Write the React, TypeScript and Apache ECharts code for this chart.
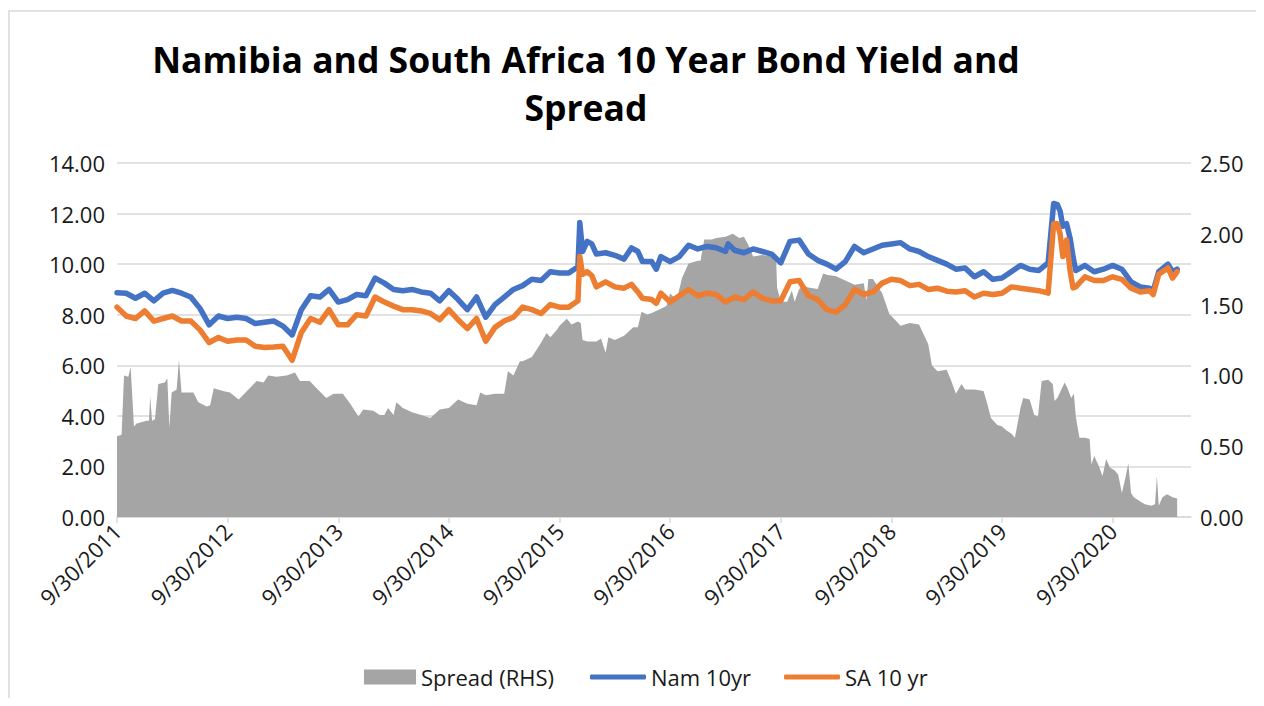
import { useEffect, useRef } from "react";
import * as echarts from "echarts";

// x values are months after 9/30/2011
const tickMonths = [0, 12, 24, 36, 48, 60, 72, 84, 96, 108];
const tickYears = [2011, 2012, 2013, 2014, 2015, 2016, 2017, 2018, 2019, 2020];
const leftTicks = [0, 2, 4, 6, 8, 10, 12, 14];
const rightTicks = [0, 0.5, 1, 1.5, 2, 2.5];

const namYield: [number, number][] = [
  [0, 8.87], [1, 8.85], [2, 8.65], [3, 8.85], [4, 8.55], [5, 8.85], [6, 8.96], [7, 8.85], [8, 8.7], [9, 8.25],
  [10, 7.6], [11, 7.95], [12, 7.85], [13, 7.9], [14, 7.85], [15, 7.65], [16, 7.7], [17, 7.75], [18, 7.55], [19, 7.2],
  [20, 8.2], [21, 8.75], [22, 8.7], [23, 9.0], [24, 8.5], [25, 8.6], [26, 8.8], [27, 8.75], [28, 9.45], [29, 9.25],
  [30, 9.0], [31, 8.95], [32, 9.0], [33, 8.9], [34, 8.85], [35, 8.55], [36, 8.95], [37, 8.6], [38, 8.2], [39, 8.7],
  [40, 7.9], [41, 8.4], [42, 8.7], [43, 9.0], [44, 9.15], [45, 9.4], [46, 9.35], [47, 9.7], [48, 9.65], [49, 9.65],
  [50, 9.9], [50.2, 11.65], [50.5, 10.5], [51, 10.9], [51.5, 10.8], [52, 10.4], [53, 10.45], [54, 10.35], [55, 10.2],
  [55.8, 10.64], [56.5, 10.5], [57, 10.1], [58, 10.1], [58.5, 9.8], [59, 10.3], [60, 10.1], [61, 10.3], [62, 10.75],
  [63, 10.6], [64, 10.7], [65, 10.65], [66, 10.5], [66.3, 10.8], [67, 10.55], [68, 10.45], [69, 10.6], [70, 10.5],
  [71, 10.4], [72, 10.05], [73, 10.9], [74, 10.95], [75, 10.4], [76, 10.15], [77, 10.0], [78, 9.8], [79, 10.1],
  [80, 10.7], [81, 10.45], [82, 10.6], [83, 10.75], [84, 10.8], [85, 10.85], [86, 10.6], [87, 10.5], [88, 10.3],
  [89, 10.15], [90, 10.0], [91, 9.8], [92, 9.85], [93, 9.5], [94, 9.7], [95, 9.4], [96, 9.45], [97, 9.7], [98, 9.95],
  [99, 9.8], [100, 9.75], [101, 10.05], [101.6, 12.4], [102, 12.35], [102.3, 12.1], [102.6, 11.5], [103, 11.6],
  [103.4, 11.0], [103.7, 10.3], [104, 9.75], [105, 9.95], [106, 9.7], [107, 9.8], [108, 9.95], [109, 9.8], [110, 9.3],
  [111, 9.1], [112, 9.05], [112.4, 8.95], [113, 9.7], [114, 10.0], [114.5, 9.7], [115, 9.8],
];

const saYield: [number, number][] = [
  [0, 8.3], [1, 7.95], [2, 7.85], [3, 8.15], [4, 7.75], [5, 7.85], [6, 7.95], [7, 7.75], [8, 7.75], [9, 7.4],
  [10, 6.9], [11, 7.1], [12, 6.95], [13, 7.0], [14, 7.0], [15, 6.75], [16, 6.7], [17, 6.72], [18, 6.75], [19, 6.2],
  [20, 7.3], [21, 7.85], [22, 7.7], [23, 8.2], [24, 7.6], [25, 7.6], [26, 8.0], [27, 7.95], [28, 8.7], [29, 8.5],
  [30, 8.34], [31, 8.2], [32, 8.2], [33, 8.15], [34, 8.05], [35, 7.8], [36, 8.2], [37, 7.8], [38, 7.45], [39, 7.85],
  [40, 6.95], [41, 7.5], [42, 7.75], [43, 7.9], [44, 8.3], [45, 8.2], [46, 8.05], [47, 8.4], [48, 8.3], [49, 8.3],
  [50, 8.55], [50.2, 10.3], [50.5, 9.6], [51, 9.7], [51.5, 9.55], [52, 9.1], [53, 9.3], [54, 9.1], [55, 9.05],
  [55.8, 9.2], [56.5, 8.9], [57, 8.65], [58, 8.6], [58.5, 8.45], [59, 8.85], [60, 8.5], [61, 8.75], [62, 9.0],
  [63, 8.75], [64, 8.85], [65, 8.8], [66, 8.5], [67, 8.7], [68, 8.6], [69, 8.9], [70, 8.65], [71, 8.55], [72, 8.55],
  [73, 9.3], [74, 9.35], [75, 8.75], [76, 8.6], [77, 8.2], [78, 8.1], [79, 8.4], [80, 9.0], [81, 8.8], [82, 8.9],
  [83, 9.25], [84, 9.4], [85, 9.35], [86, 9.15], [87, 9.2], [88, 9.0], [89, 9.05], [90, 8.93], [91, 8.9], [92, 8.95],
  [93, 8.7], [94, 8.85], [95, 8.8], [96, 8.85], [97, 9.1], [98, 9.05], [99, 9.0], [100, 8.95], [101, 8.85],
  [101.6, 11.6], [102, 11.6], [102.3, 11.2], [102.6, 10.3], [103, 10.95], [103.4, 9.7], [103.7, 9.06], [104, 9.1],
  [105, 9.5], [106, 9.35], [107, 9.35], [108, 9.5], [109, 9.4], [110, 9.05], [111, 8.9], [112, 8.95], [112.4, 8.8],
  [113, 9.6], [114, 9.85], [114.5, 9.45], [115, 9.7],
];

const spread: [number, number][] = [
  [0, 0.57], [0.5, 0.58], [0.76, 1.0], [1.23, 0.99], [1.48, 1.06], [1.84, 0.64], [2.13, 0.66], [3.2, 0.68],
  [3.47, 0.68], [3.6, 0.85], [3.8, 0.68], [4.12, 0.69], [4.48, 0.94], [5.2, 0.95], [5.46, 0.98], [5.68, 0.63],
  [5.93, 0.88], [6.47, 0.9], [6.72, 1.11], [7.0, 0.88], [8.28, 0.88], [8.82, 0.81], [9.73, 0.78], [10.1, 0.79],
  [10.5, 0.91], [11.5, 0.89], [12.25, 0.88], [13.2, 0.83], [14.1, 0.89], [15.15, 0.96], [15.9, 0.95], [16.4, 1.0],
  [17.3, 0.99], [18.4, 1.0], [19.3, 1.02], [19.85, 0.96], [20.9, 0.96], [21.65, 0.91], [22.7, 0.84], [23.5, 0.87],
  [24.5, 0.87], [25.3, 0.8], [26.2, 0.71], [26.7, 0.76], [27.8, 0.75], [28.5, 0.72], [29.0, 0.72], [29.4, 0.77],
  [30, 0.72], [30.3, 0.81], [31, 0.77], [32, 0.74], [33, 0.72], [34, 0.7], [35, 0.76], [36, 0.77], [37, 0.83],
  [38, 0.8], [39, 0.79], [39.4, 0.88], [40, 0.86], [41, 0.87], [42, 0.87], [42.4, 1.03], [43, 1.0], [43.7, 1.1],
  [44, 1.1], [45, 1.13], [46, 1.23], [46.6, 1.3], [47, 1.27], [47.7, 1.32], [48, 1.35], [48.8, 1.4], [49.3, 1.36],
  [50, 1.38], [50.3, 1.37], [50.5, 1.25], [51, 1.24], [52, 1.24], [52.5, 1.26], [53, 1.16], [53.3, 1.27], [54, 1.25],
  [55, 1.28], [56, 1.34], [56.5, 1.34], [56.9, 1.45], [57.5, 1.43], [58, 1.44], [59, 1.47], [59.6, 1.49], [60, 1.58],
  [60.7, 1.53], [61.3, 1.69], [62, 1.79], [63, 1.81], [63.3, 1.81], [63.7, 1.96], [64.5, 1.96], [65, 1.97],
  [66, 1.98], [66.8, 2.0], [67.5, 1.97], [68, 1.98], [68.5, 1.92], [69, 1.84], [70, 1.85], [71, 1.84], [71.5, 1.82],
  [71.6, 1.62], [72, 1.52], [72.7, 1.52], [73.2, 1.6], [73.5, 1.52], [74, 1.61], [74.5, 1.63], [75, 1.62],
  [76, 1.61], [76.6, 1.72], [77, 1.71], [78, 1.7], [79, 1.67], [80, 1.64], [81, 1.65], [81.3, 1.53], [81.5, 1.68],
  [82, 1.68], [83, 1.58], [83.8, 1.43], [84, 1.42], [85, 1.35], [86, 1.37], [87, 1.36], [88, 1.22], [88.4, 1.07],
  [89, 1.03], [90, 1.04], [90.5, 0.96], [91, 0.87], [91.6, 0.94], [92, 0.9], [93, 0.9], [94, 0.89], [94.4, 0.8],
  [94.8, 0.7], [95.5, 0.65], [96, 0.64], [96.5, 0.61], [97, 0.59], [97.4, 0.56], [97.8, 0.7], [98, 0.77],
  [98.3, 0.84], [99, 0.83], [99.5, 0.72], [99.9, 0.71], [100.3, 0.96], [101, 0.97], [101.5, 0.94], [101.7, 0.82],
  [102, 0.84], [102.8, 0.95], [103.1, 0.91], [103.5, 0.84], [103.8, 0.87], [104, 0.71], [104.4, 0.56], [105, 0.56],
  [105.5, 0.55], [105.7, 0.37], [106, 0.43], [106.5, 0.36], [106.9, 0.29], [107.3, 0.41], [107.7, 0.35],
  [108.2, 0.33], [108.6, 0.3], [109, 0.17], [109.3, 0.25], [109.7, 0.38], [110, 0.17], [110.3, 0.14], [111, 0.11],
  [111.5, 0.09], [112.2, 0.08], [112.6, 0.09], [112.8, 0.29], [113, 0.08], [113.4, 0.14], [113.9, 0.16],
  [114.5, 0.14], [115, 0.13],
];

const FONT = "'Open Sans', sans-serif";
const GRID_COLOR = "#D9D9D9";
const TEXT_COLOR = "#1a1a1a";
const GRAY = "#A5A5A5";
const BLUE = "#4472C4";
const ORANGE = "#ED7D31";

export default function App() {
  const ref = useRef<HTMLDivElement>(null);

  useEffect(() => {
    if (!ref.current) return;
    const chart = echarts.init(ref.current, null, { renderer: "svg" });
    const yearOf = (v: number) => tickYears[tickMonths.indexOf(Math.round(v))];
    const legendText = { fontFamily: FONT, fontSize: 22, color: TEXT_COLOR };
    chart.setOption({
      animation: false,
      backgroundColor: "#ffffff",
      textStyle: { fontFamily: FONT },
      title: {
        text: "Namibia and South Africa 10 Year Bond Yield and\nSpread",
        left: 573,
        top: 22,
        textAlign: "center",
        textStyle: {
          fontFamily: FONT,
          fontSize: 35.5,
          fontWeight: "bold",
          color: "#000000",
          lineHeight: 48,
        },
      },
      graphic: [
        {
          type: "rect",
          shape: { x: 1, y: 3, width: 1400, height: 900 },
          style: { fill: "none", stroke: GRID_COLOR, lineWidth: 1.5 },
          silent: true,
        },
      ],
      legend: [
        {
          left: 351,
          top: 653,
          itemWidth: 52,
          itemHeight: 15,
          textStyle: legendText,
          data: [{ name: "Spread (RHS)", icon: "rect" }],
        },
        {
          left: 577,
          top: 653,
          itemWidth: 56,
          itemHeight: 5,
          itemGap: 33,
          textStyle: legendText,
          data: [
            { name: "Nam 10yr", icon: "roundRect" },
            { name: "SA 10 yr", icon: "roundRect" },
          ],
        },
      ],
      grid: { left: 109, right: 65, top: 155, bottom: 181, containLabel: false },
      xAxis: {
        type: "value",
        min: 0,
        max: 116.5,
        interval: 12,
        axisLine: { show: true, lineStyle: { color: GRID_COLOR, width: 1.5 } },
        axisTick: {
          show: true,
          customValues: tickMonths,
          length: 6,
          lineStyle: { color: GRID_COLOR, width: 1.5 },
        },
        splitLine: { show: false },
        axisLabel: {
          customValues: tickMonths,
          rotate: 45,
          margin: 10,
          fontFamily: FONT,
          fontSize: 22,
          color: TEXT_COLOR,
          formatter: (v: number) => `9/30/${yearOf(v)}`,
        },
      },
      yAxis: [
        {
          type: "value",
          min: leftTicks[0],
          max: leftTicks[leftTicks.length - 1],
          interval: 2,
          axisLine: { show: false },
          axisTick: { show: false },
          splitLine: { show: true, lineStyle: { color: GRID_COLOR, width: 1.5 } },
          axisLabel: {
            margin: 12,
            fontFamily: FONT,
            fontSize: 22,
            color: TEXT_COLOR,
            formatter: (v: number) => v.toFixed(2),
          },
        },
        {
          type: "value",
          min: rightTicks[0],
          max: rightTicks[rightTicks.length - 1],
          interval: 0.5,
          position: "right",
          axisLine: { show: false },
          axisTick: { show: false },
          splitLine: { show: false },
          axisLabel: {
            margin: 9,
            fontFamily: FONT,
            fontSize: 22,
            color: TEXT_COLOR,
            formatter: (v: number) => v.toFixed(2),
          },
        },
      ],
      series: [
        {
          name: "Spread (RHS)",
          type: "line",
          yAxisIndex: 1,
          data: spread,
          symbol: "none",
          itemStyle: { color: GRAY },
          lineStyle: { width: 0, color: GRAY },
          areaStyle: { color: GRAY, opacity: 1 },
          z: 1,
        },
        {
          name: "Nam 10yr",
          type: "line",
          yAxisIndex: 0,
          data: namYield,
          symbol: "none",
          itemStyle: { color: BLUE },
          lineStyle: { width: 5.5, color: BLUE, cap: "round", join: "round" },
          z: 3,
        },
        {
          name: "SA 10 yr",
          type: "line",
          yAxisIndex: 0,
          data: saYield,
          symbol: "none",
          itemStyle: { color: ORANGE },
          lineStyle: { width: 5.5, color: ORANGE, cap: "round", join: "round" },
          z: 4,
        },
      ],
    });
    return () => chart.dispose();
  }, []);

  return <div ref={ref} style={{ width: "100%", height: 690 }} />;
}
